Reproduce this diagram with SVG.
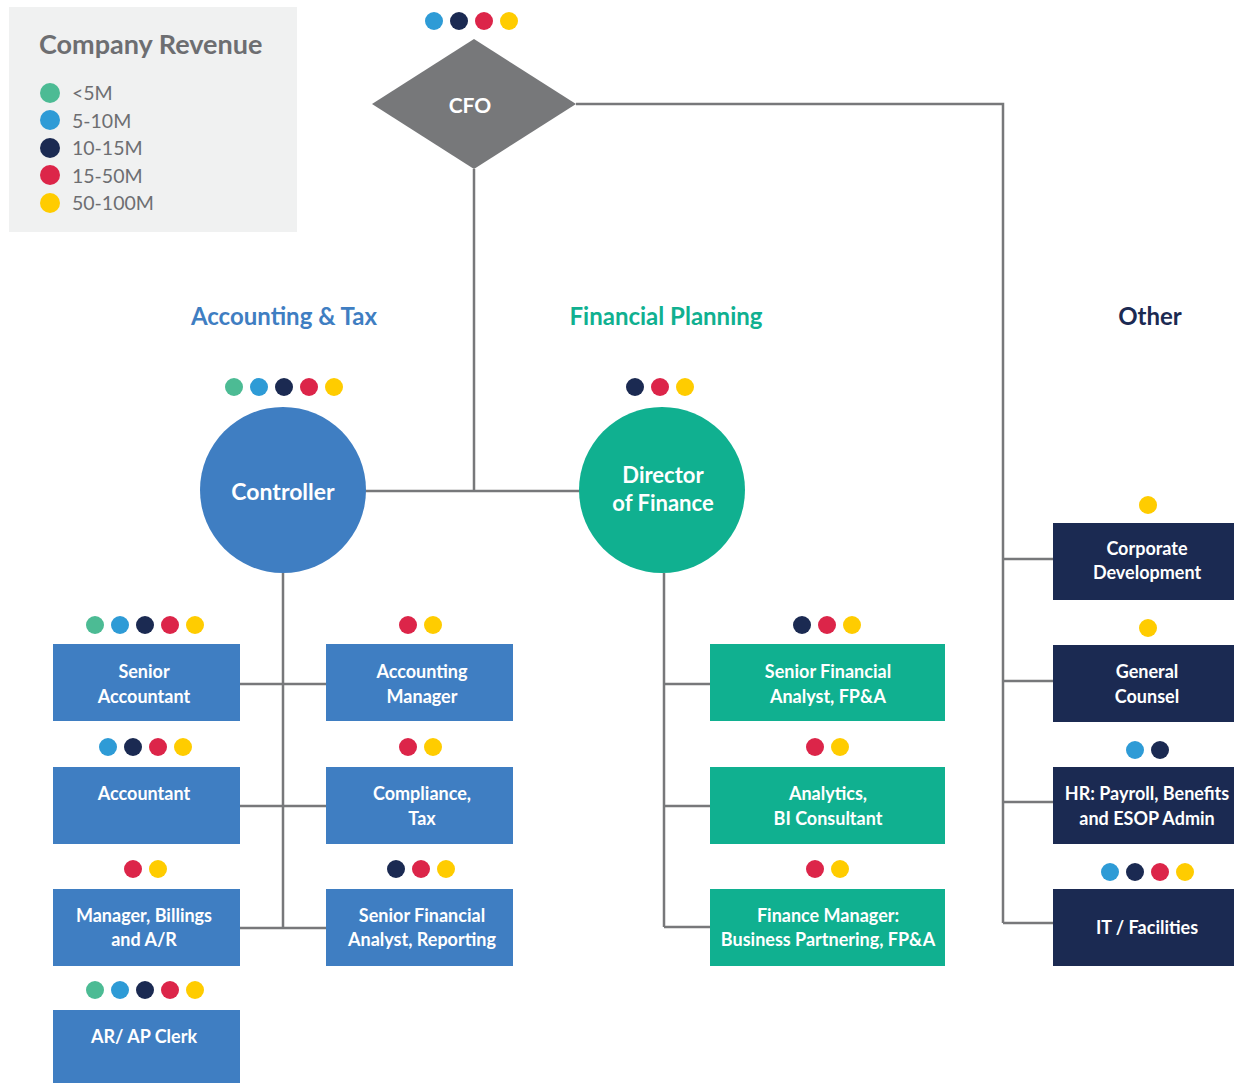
<svg xmlns="http://www.w3.org/2000/svg" width="1234" height="1083" viewBox="0 0 1234 1083">
<style>
.t{font-family:Lato,"Open Sans","Liberation Sans",sans-serif;font-weight:bold;fill:#fff;text-anchor:middle}
.bx{font-size:18px}
.hd{font-family:Lato,"Open Sans","Liberation Sans",sans-serif;font-weight:bold;font-size:24px;text-anchor:middle}
.lg{font-family:Lato,"Open Sans","Liberation Sans",sans-serif;font-size:19.5px;fill:#6d6e71}
.ln{stroke:#77787a;stroke-width:2.5;fill:none}
.g{fill:#4cbb94}.b{fill:#2e9bd6}.n{fill:#1b2a52}.r{fill:#dc2549}.y{fill:#ffcc00}
.blue{fill:#3f7ec2}.teal{fill:#10b090}.navy{fill:#1b2a52}
</style>
<rect x="9" y="7" width="288" height="225" fill="#f0f1f1"/>
<g id="legend">
<text x="39" y="54" class="lg" style="font-weight:bold;font-size:27px">Company Revenue</text>
<circle cx="50" cy="93" r="10" class="g"/><text x="72" y="100" class="lg">&lt;5M</text>
<circle cx="50" cy="120" r="10" class="b"/><text x="72" y="128" class="lg">5-10M</text>
<circle cx="50" cy="148" r="10" class="n"/><text x="72" y="155" class="lg">10-15M</text>
<circle cx="50" cy="175" r="10" class="r"/><text x="72" y="183" class="lg">15-50M</text>
<circle cx="50" cy="203" r="10" class="y"/><text x="72" y="210" class="lg">50-100M</text>
</g>
<g id="headers">
<text x="284" y="325" class="hd" fill="#3f7ec2">Accounting &amp; Tax</text>
<text x="666" y="325" class="hd" fill="#10b090">Financial Planning</text>
<text x="1150" y="325" class="hd" fill="#1b2a52">Other</text>
</g>
<g id="connectors">
<path class="ln" d="M474 169V491M365 491H580M576 104H1003V923M1003 559H1053M1003 681H1053M1003 802H1053M1003 923H1053"/>
<path class="ln" d="M283 573V928M240 684H326M240 806H326M240 928H326"/>
<path class="ln" d="M664 573V927M664 684H710M664 806H710M664 927H710"/>
</g>
<g id="cfo">
<polygon points="372,104 474,39 576,104 474,169" fill="#77787a"/>
<text x="470" y="113" class="t" style="font-size:21px">CFO</text>
<circle cx="434" cy="21" r="9" class="b"/><circle cx="459" cy="21" r="9" class="n"/><circle cx="484" cy="21" r="9" class="r"/><circle cx="509" cy="21" r="9" class="y"/>
</g>
<g id="controller">
<circle cx="283" cy="490" r="83" class="blue"/>
<text x="283" y="500" class="t" style="font-size:23px">Controller</text>
<circle cx="234" cy="387" r="9" class="g"/><circle cx="259" cy="387" r="9" class="b"/><circle cx="284" cy="387" r="9" class="n"/><circle cx="309" cy="387" r="9" class="r"/><circle cx="334" cy="387" r="9" class="y"/>
</g>
<g id="director">
<circle cx="662" cy="490" r="83" class="teal"/>
<text x="663" y="483" class="t" style="font-size:22px">Director</text>
<text x="663" y="511" class="t" style="font-size:22px">of Finance</text>
<circle cx="635" cy="387" r="9" class="n"/><circle cx="660" cy="387" r="9" class="r"/><circle cx="685" cy="387" r="9" class="y"/>
</g>
<g id="senior-accountant">
<rect x="53" y="644" width="187" height="77" class="blue"/>
<text x="144" y="678" class="t bx">Senior</text><text x="144" y="703" class="t bx">Accountant</text>
<circle cx="95" cy="625" r="9" class="g"/><circle cx="120" cy="625" r="9" class="b"/><circle cx="145" cy="625" r="9" class="n"/><circle cx="170" cy="625" r="9" class="r"/><circle cx="195" cy="625" r="9" class="y"/>
</g>
<g id="accounting-manager">
<rect x="326" y="644" width="187" height="77" class="blue"/>
<text x="422" y="678" class="t bx">Accounting</text><text x="422" y="703" class="t bx">Manager</text>
<circle cx="408" cy="625" r="9" class="r"/><circle cx="433" cy="625" r="9" class="y"/>
</g>
<g id="accountant">
<rect x="53" y="767" width="187" height="77" class="blue"/>
<text x="144" y="800" class="t bx">Accountant</text>
<circle cx="108" cy="747" r="9" class="b"/><circle cx="133" cy="747" r="9" class="n"/><circle cx="158" cy="747" r="9" class="r"/><circle cx="183" cy="747" r="9" class="y"/>
</g>
<g id="compliance-tax">
<rect x="326" y="767" width="187" height="77" class="blue"/>
<text x="422" y="800" class="t bx">Compliance,</text><text x="422" y="825" class="t bx">Tax</text>
<circle cx="408" cy="747" r="9" class="r"/><circle cx="433" cy="747" r="9" class="y"/>
</g>
<g id="manager-billings">
<rect x="53" y="889" width="187" height="77" class="blue"/>
<text x="144" y="922" class="t bx">Manager, Billings</text><text x="144" y="946" class="t bx">and A/R</text>
<circle cx="133" cy="869" r="9" class="r"/><circle cx="158" cy="869" r="9" class="y"/>
</g>
<g id="senior-financial-analyst-reporting">
<rect x="326" y="889" width="187" height="77" class="blue"/>
<text x="422" y="922" class="t bx">Senior Financial</text><text x="422" y="946" class="t bx">Analyst, Reporting</text>
<circle cx="396" cy="869" r="9" class="n"/><circle cx="421" cy="869" r="9" class="r"/><circle cx="446" cy="869" r="9" class="y"/>
</g>
<g id="ar-ap-clerk">
<rect x="53" y="1010" width="187" height="73" class="blue"/>
<text x="144" y="1043" class="t bx">AR/ AP Clerk</text>
<circle cx="95" cy="990" r="9" class="g"/><circle cx="120" cy="990" r="9" class="b"/><circle cx="145" cy="990" r="9" class="n"/><circle cx="170" cy="990" r="9" class="r"/><circle cx="195" cy="990" r="9" class="y"/>
</g>
<g id="senior-financial-analyst-fpa">
<rect x="710" y="644" width="235" height="77" class="teal"/>
<text x="828" y="678" class="t bx">Senior Financial</text><text x="828" y="703" class="t bx">Analyst, FP&amp;A</text>
<circle cx="802" cy="625" r="9" class="n"/><circle cx="827" cy="625" r="9" class="r"/><circle cx="852" cy="625" r="9" class="y"/>
</g>
<g id="analytics-bi">
<rect x="710" y="767" width="235" height="77" class="teal"/>
<text x="828" y="800" class="t bx">Analytics,</text><text x="828" y="825" class="t bx">BI Consultant</text>
<circle cx="815" cy="747" r="9" class="r"/><circle cx="840" cy="747" r="9" class="y"/>
</g>
<g id="finance-manager">
<rect x="710" y="889" width="235" height="77" class="teal"/>
<text x="828" y="922" class="t bx">Finance Manager:</text><text x="828" y="946" class="t bx">Business Partnering, FP&amp;A</text>
<circle cx="815" cy="869" r="9" class="r"/><circle cx="840" cy="869" r="9" class="y"/>
</g>
<g id="corporate-development">
<rect x="1053" y="523" width="181" height="77" class="navy"/>
<text x="1147" y="555" class="t bx">Corporate</text><text x="1147" y="579" class="t bx">Development</text>
<circle cx="1148" cy="505" r="9" class="y"/>
</g>
<g id="general-counsel">
<rect x="1053" y="645" width="181" height="77" class="navy"/>
<text x="1147" y="678" class="t bx">General</text><text x="1147" y="703" class="t bx">Counsel</text>
<circle cx="1148" cy="628" r="9" class="y"/>
</g>
<g id="hr">
<rect x="1053" y="767" width="181" height="77" class="navy"/>
<text x="1147" y="800" class="t bx">HR: Payroll, Benefits</text><text x="1147" y="825" class="t bx">and ESOP Admin</text>
<circle cx="1135" cy="750" r="9" class="b"/><circle cx="1160" cy="750" r="9" class="n"/>
</g>
<g id="it-facilities">
<rect x="1053" y="889" width="181" height="77" class="navy"/>
<text x="1147" y="934" class="t bx">IT / Facilities</text>
<circle cx="1110" cy="872" r="9" class="b"/><circle cx="1135" cy="872" r="9" class="n"/><circle cx="1160" cy="872" r="9" class="r"/><circle cx="1185" cy="872" r="9" class="y"/>
</g>
</svg>
